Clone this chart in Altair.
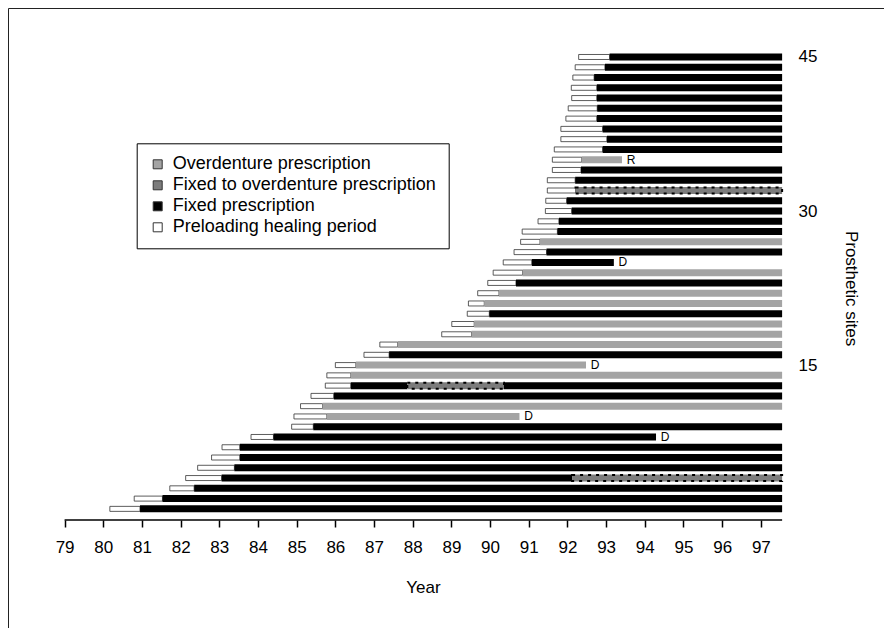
import altair as alt
import pandas as pd

# ---------------- data ----------------
sites = list(range(1, 46))
heal_start = [80.17, 80.80, 81.72, 82.13, 82.44, 82.80, 83.07, 83.82, 84.87, 84.93,
              85.10, 85.37, 85.74, 85.78, 86.00, 86.74, 87.15, 88.75, 89.01, 89.41,
              89.44, 89.68, 89.94, 90.08, 90.34, 90.62, 90.79, 90.83, 91.24, 91.43,
              91.44, 91.48, 91.48, 91.61, 91.61, 91.66, 91.83, 91.83, 91.96, 92.02,
              92.11, 92.10, 92.14, 92.20, 92.29]
load_start = [80.95, 81.53, 82.35, 83.06, 83.39, 83.53, 83.53, 84.40, 85.43, 85.78,
              85.67, 85.96, 86.40, 86.40, 86.53, 87.39, 87.61, 89.52, 89.59, 89.98,
              89.85, 90.23, 90.67, 90.84, 91.08, 91.46, 91.29, 91.74, 91.78, 92.11,
              91.98, 92.21, 92.20, 92.35, 92.37, 92.91, 93.02, 92.91, 92.76, 92.77,
              92.76, 92.76, 92.69, 92.97, 93.09]
first_kind = ("F F F F F F F F F O O F F O O F O O O F O O F O F F O F F F F X F F O "
              "F F F F F F F F F F").split()
study_end = 97.55

stop_site = [8, 10, 15, 25, 35]
stop_year = [94.29, 90.76, 92.48, 93.20, 93.41]
stop_mark = ["D", "D", "D", "D", "R"]

change_site = [4, 13, 13]
change_year = [92.12, 87.86, 90.36]
change_kind = ["X", "X", "F"]

kind_names = {
    "O": "Overdenture prescription",
    "X": "Fixed to overdenture prescription",
    "F": "Fixed prescription",
    "H": "Preloading healing period",
}
kind_order = [kind_names[k] for k in ["O", "X", "F", "H"]]
kind_colors = ["#a4a4a4", "#7c7c7c", "#000000", "#ffffff"]
year_ticks = list(range(79, 98))
site_ticks = [15, 30, 45]

# ---------------- build segment table ----------------
rows = []
for i, s in enumerate(sites):
    rows.append({"site": s, "start": heal_start[i], "end": load_start[i], "kind": kind_names["H"]})
    end = study_end
    if s in stop_site:
        end = stop_year[stop_site.index(s)]
    cuts = [(y, k) for ss, y, k in zip(change_site, change_year, change_kind) if ss == s]
    cur_start, cur_kind = load_start[i], first_kind[i]
    for y, k in cuts:
        rows.append({"site": s, "start": cur_start, "end": y, "kind": kind_names[cur_kind]})
        cur_start, cur_kind = y, k
    rows.append({"site": s, "start": cur_start, "end": end, "kind": kind_names[cur_kind]})
seg = pd.DataFrame(rows)

ann = pd.DataFrame({"site": stop_site, "end": stop_year, "mark": stop_mark})
axis_line = pd.DataFrame({"a": [year_ticks[0]], "b": [study_end]})

# ---------------- scales / axes ----------------
W, H = 876, 620
xscale = alt.Scale(domain=[77.537, 100.184], nice=False, zero=False, padding=0)
yscale = alt.Scale(domain=[-10.60, 49.771], nice=False, zero=False, padding=0)

x_axis = alt.Axis(values=year_ticks, offset=-108, domain=False, grid=False,
                  tickSize=7, tickWidth=1.5, tickColor="black",
                  labelFontSize=17, labelPadding=12, labelColor="black",
                  title="Year", titleFontSize=17, titleFontWeight="normal",
                  titleColor="black", titleX=415, titleY=67,
                  titleAlign="center", titleBaseline="middle")
y_axis = alt.Axis(orient="right", values=site_ticks, offset=-102, domain=False,
                  ticks=False, grid=False, labelFontSize=17, labelPadding=16,
                  labelColor="black", labelAlign="left", labelBaseline="middle",
                  title="Prosthetic sites", titleAngle=90, titleX=68, titleY=280,
                  titleFontSize=17, titleFontWeight="normal", titleColor="black",
                  titleAlign="center", titleBaseline="middle")

legend = alt.Legend(title=None, orient="none", legendX=128.7, legendY=135.3,
                    strokeColor="black", fillColor="white", padding=12,
                    labelFontSize=18, labelColor="black", labelLimit=0,
                    symbolType="square", symbolSize=81, rowPadding=3,
                    labelOffset=6, symbolStrokeColor="#333333",
                    symbolStrokeWidth=1)
fill_enc = alt.Fill("kind:N", scale=alt.Scale(domain=kind_order, range=kind_colors),
                    legend=legend)

X = lambda f: alt.X(f, scale=xscale, axis=x_axis)
Y = lambda f: alt.Y(f, scale=yscale, axis=y_axis)

base = alt.Chart(seg)

heal = base.transform_filter(alt.datum.kind == kind_names["H"]).mark_bar(
    size=5, stroke="#333333", strokeWidth=0.8
).encode(x=X("start:Q"), x2="end:Q", y=Y("site:Q"), fill=fill_enc)

presc = base.transform_filter(alt.datum.kind != kind_names["H"]).mark_bar(
    size=7
).encode(x=X("start:Q"), x2="end:Q", y=Y("site:Q"), fill=fill_enc)

dots = base.transform_filter(alt.datum.kind == kind_names["X"]).mark_bar(
    size=6, filled=False, stroke="black", strokeWidth=2, strokeDash=[3, 5]
).encode(x=X("start:Q"), x2="end:Q", y=Y("site:Q"))

labels = alt.Chart(ann).mark_text(dx=9, fontSize=12, align="center",
                                  baseline="middle", color="black").encode(
    x=X("end:Q"), y=Y("site:Q"), text="mark:N")

xline = alt.Chart(axis_line).mark_rule(strokeWidth=1.5, color="black").encode(
    x=X("a:Q"), x2="b:Q", y=alt.value(512))

chart = alt.layer(heal, presc, dots, labels, xline).properties(
    width=W, height=H, padding=0, autosize=alt.AutoSizeParams(type="none"),
    background="white"
).configure(font="Liberation Sans").configure_view(stroke="#222222", strokeWidth=1)

chart.save("out.html", embed_options={"renderer": "svg", "actions": False})
